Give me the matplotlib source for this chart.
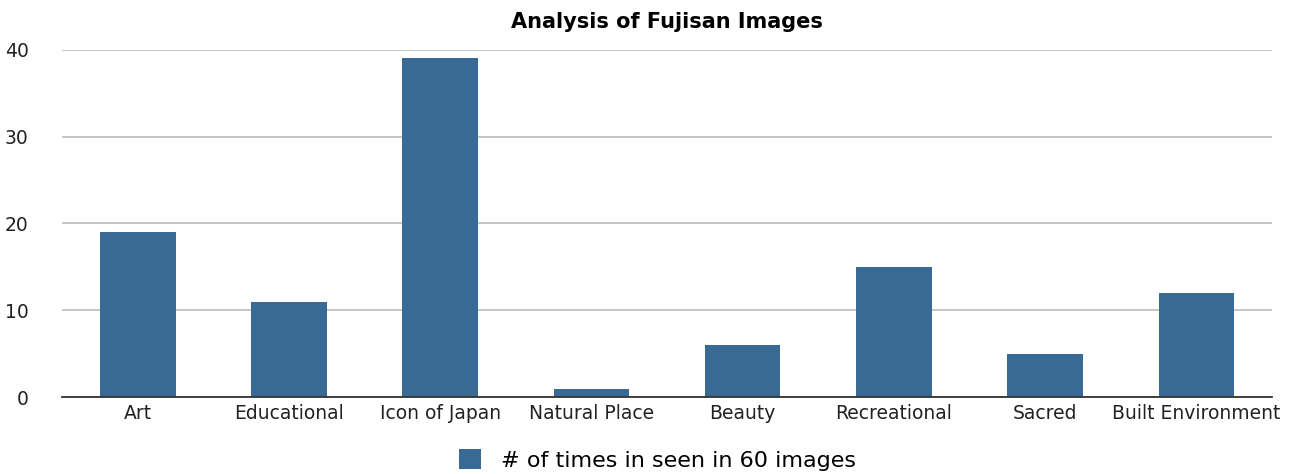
import matplotlib.pyplot as plt
import numpy as np

categories = ['Art', 'Educational', 'Icon of Japan', 'Natural Place', 'Beauty',
              'Recreational', 'Sacred', 'Built Environment']
counts = [19, 11, 39, 1, 6, 15, 5, 12]
y_ticks = [0, 10, 20, 30, 40]
series_name = '# of times in seen in 60 images'

plt.rcParams['font.family'] = ['DejaVu Sans']

fig = plt.figure(figsize=(12.94, 4.74), dpi=100)
ax = fig.add_axes([0.048, 0.162, 0.935, 0.733])

x = np.arange(len(categories))
ax.bar(x, counts, width=0.5, color='#386a95', zorder=3, label=series_name)

ax.set_xlim(-0.5, len(categories) - 0.5)
ax.set_ylim(0, 40)
ax.set_yticks(y_ticks)
ax.set_xticks(x)
ax.set_xticklabels(categories, fontsize=13.5, color='#222222')
ax.tick_params(axis='y', labelsize=13.5, colors='#222222', length=0, pad=24)
ax.tick_params(axis='x', length=0, pad=5)

ax.yaxis.grid(True, color='#b5b5b5', linewidth=1.1, zorder=0)
for s in ['top', 'right', 'left']:
    ax.spines[s].set_visible(False)
ax.spines['bottom'].set_color('#333333')
ax.spines['bottom'].set_linewidth(1.3)
ax.spines['bottom'].set_zorder(4)

ax.set_title('Analysis of Fujisan Images', fontsize=15, fontweight='bold', pad=16)

fig.legend(loc='lower center', bbox_to_anchor=(0.508, -0.035), frameon=False,
           fontsize=16, handlelength=1.0, handleheight=1.0, handletextpad=0.9)

fig.savefig('out.png', dpi=100)
